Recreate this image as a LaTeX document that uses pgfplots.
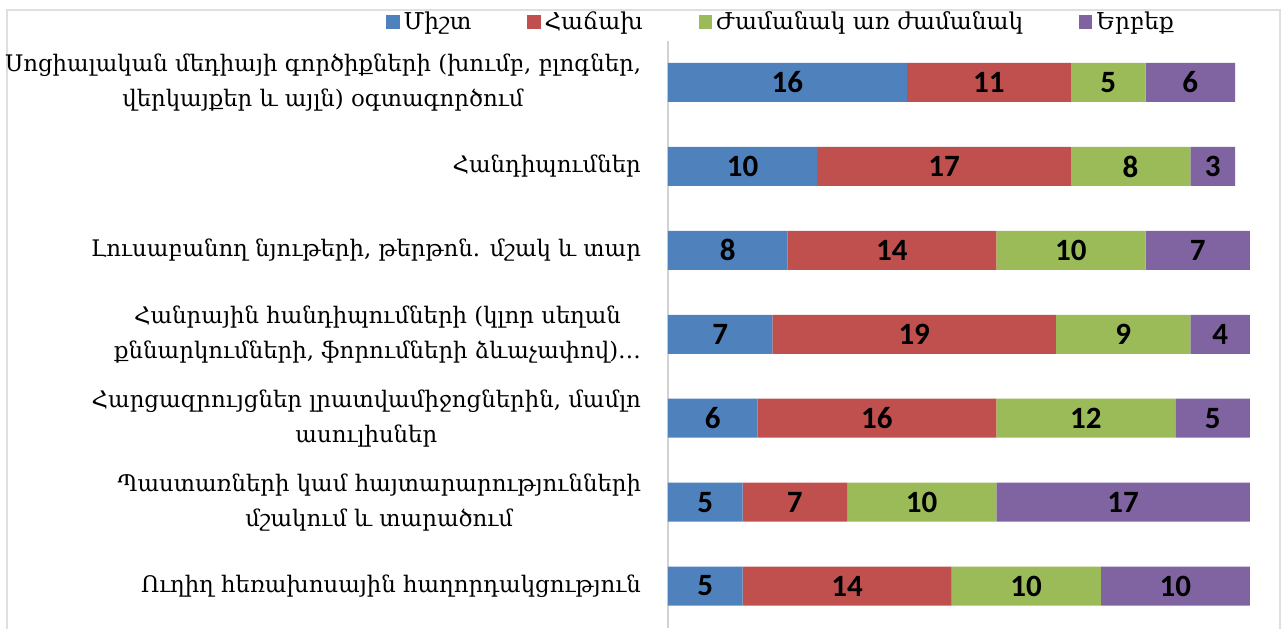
\documentclass[border=0pt]{standalone}
\usepackage{fontspec}
\setmainfont{DejaVu Serif}
\newfontfamily\numfont{Carlito}
\usepackage{pgfplots}
\usepackage{pgfplotstable}
\pgfplotsset{compat=1.18}
\definecolor{cblue}{HTML}{4F81BD}
\definecolor{cred}{HTML}{C0504D}
\definecolor{cgreen}{HTML}{9BBB59}
\definecolor{cpurple}{HTML}{8064A2}

% idx = row from top
\pgfplotstableread{
idx s1 s2 s3 s4
0 16 11 5 6
1 10 17 8 3
2 8 14 10 7
3 7 19 9 4
4 6 16 12 5
5 5 7 10 17
6 5 14 10 10
}\data

\begin{document}
\begin{tikzpicture}
\path[use as bounding box] (-334pt,0pt) rectangle (308pt,314pt);
\draw[gray!25, line width=0.8pt] (-330.5pt,-5pt) |- (306pt,309pt) -- (306pt,-5pt);
\begin{axis}[
    at={(0pt,0pt)}, anchor=south west,
    scale only axis,
    width=291pt, height=293.75pt,
    xbar stacked,
    bar width=19.5pt,
    xmin=0, xmax=39,
    ymin=-0.5, ymax=6.5,
    y dir=reverse,
    axis x line=none,
    axis y line*=left,
    axis line style={gray!35, line width=0.8pt},
    ytick={0,1,2,3,4,5,6},
    yticklabels={
        {Սոցիալական մեդիայի գործիքների (խումբ, բլոգներ,\\վերկայքեր և այլն) օգտագործում},
        {Հանդիպումներ},
        {Լուսաբանող նյութերի, թերթոն. մշակ և տար},
        {Հանրային հանդիպումների (կլոր սեղան\\քննարկումների, ֆորումների ձևաչափով)…},
        {Հարցազրույցներ լրատվամիջոցներին, մամլո\\ասուլիսներ},
        {Պաստառների կամ հայտարարությունների\\մշակում և տարածում},
        {Ուղիղ հեռախոսային հաղորդակցություն}
    },
    major tick length=0pt,
    yticklabel style={align=center, font=\fontsize{11.4}{17.5}\selectfont, xshift=-10pt},
    nodes near coords={\pgfmathprintnumber[assume math mode=true,fixed,precision=0]{\val}},
    nodes near coords align={center},
    every node near coord/.append style={font=\numfont\bfseries\fontsize{15.5}{18}\selectfont,
        text=black},
    legend columns=4,
    legend style={at={(0.196,1.0315)}, anchor=center, draw=none, fill=none,
        font=\fontsize{11.6}{15}\selectfont,
        /tikz/every even column/.append style={column sep=26pt}},
    legend image code/.code={\fill[#1,draw=none] (0pt,-3.3pt) rectangle (6.6pt,3.3pt);},
]
\addplot[fill=cblue, draw=none, visualization depends on={\thisrow{s1} \as \val}] table[x=s1, y=idx] {\data};
\addplot[fill=cred, draw=none, visualization depends on={\thisrow{s2} \as \val}] table[x=s2, y=idx] {\data};
\addplot[fill=cgreen, draw=none, visualization depends on={\thisrow{s3} \as \val}] table[x=s3, y=idx] {\data};
\addplot[fill=cpurple, draw=none, visualization depends on={\thisrow{s4} \as \val}] table[x=s4, y=idx] {\data};
\legend{Միշտ, Հաճախ, Ժամանակ առ ժամանակ, Երբեք}
\end{axis}
\end{tikzpicture}
\end{document}
